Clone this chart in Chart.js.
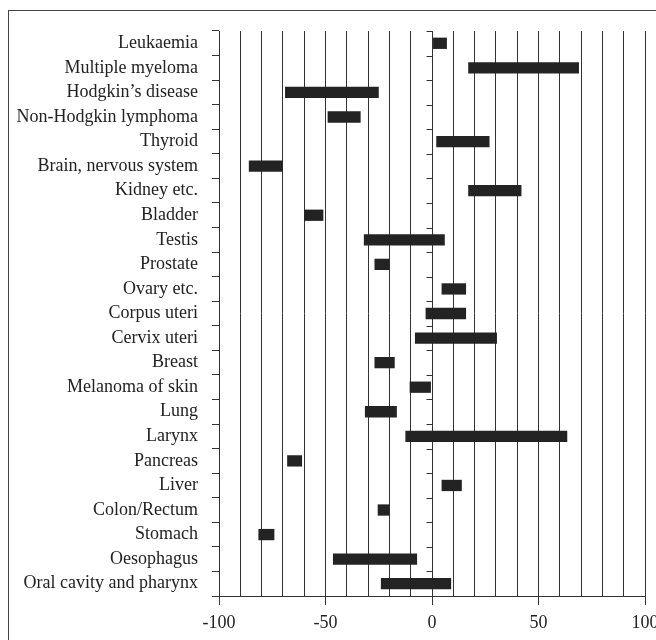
<!DOCTYPE html>
<html>
<head>
<meta charset="utf-8">
<script src="https://cdn.jsdelivr.net/npm/chart.js@4.4.1/dist/chart.umd.min.js"></script>
<style>
  html, body { margin: 0; padding: 0; background: #fff; overflow: hidden; }
  #wrap { position: relative; width: 656px; height: 640px; overflow: hidden; }
  #frame { position: absolute; left: 8px; top: 10px; width: 700px; height: 700px; border: 1px solid #444; box-sizing: border-box; pointer-events: none; }
  canvas { position: absolute; left: 0; top: 0; }
</style>
</head>
<body>
<div id="wrap">
  <div id="frame"></div>
  <canvas id="c" width="690" height="640"></canvas>
</div>
<script>
const categories = [
  "Leukaemia", "Multiple myeloma", "Hodgkin\u2019s disease", "Non-Hodgkin lymphoma",
  "Thyroid", "Brain, nervous system", "Kidney etc.", "Bladder", "Testis", "Prostate",
  "Ovary etc.", "Corpus uteri", "Cervix uteri", "Breast", "Melanoma of skin", "Lung",
  "Larynx", "Pancreas", "Liver", "Colon/Rectum", "Stomach", "Oesophagus",
  "Oral cavity and pharynx"
];
const lowValues = [
  0.5, 17, -69, -49, 2, -86, 17, -60, -32, -27,
  4.5, -3, -8, -27, -10.5, -31.5,
  -12.5, -68, 4.5, -25.5, -81.5, -46.5, -24
];
const highValues = [
  7, 69, -25, -33.5, 27, -70, 42, -51, 6, -20,
  16, 16, 30.5, -17.5, -0.5, -16.5,
  63.5, -61, 14, -20, -74, -7, 9
];
const xTickLabels = [-100, -50, 0, 50, 100];

const ranges = categories.map((c, i) => [lowValues[i], highValues[i]]);
const serif = "'Liberation Serif', 'DejaVu Serif', serif";

const zeroTicks = {
  id: 'zeroTicks',
  afterDatasetsDraw(chart) {
    const ctx = chart.ctx, xs = chart.scales.x, ys = chart.scales.y;
    const x = Math.round(xs.getPixelForValue(0)) + 0.5;
    ctx.save();
    ctx.strokeStyle = '#333';
    ctx.lineWidth = 1;
    ctx.beginPath();
    for (let i = 0; i <= categories.length; i++) {
      const y = Math.round(ys.getPixelForValue(i - 0.5)) + 0.5;
      ctx.moveTo(x - 6, y);
      ctx.lineTo(x, y);
    }
    ctx.stroke();
    ctx.restore();
  }
};

new Chart(document.getElementById('c'), {
  type: 'bar',
  data: {
    labels: categories,
    datasets: [{
      data: ranges,
      backgroundColor: '#222322',
      borderWidth: 0,
      categoryPercentage: 1.0,
      barPercentage: 0.46
    }]
  },
  options: {
    indexAxis: 'y',
    responsive: false,
    animation: false,
    layout: { padding: { left: 0, top: 31, right: 45, bottom: 0 } },
    plugins: { legend: { display: false }, tooltip: { enabled: false } },
    scales: {
      x: {
        min: -100, max: 100,
        afterFit(scale) { scale.height = 44; },
        ticks: {
          stepSize: 10,
          autoSkip: false,
          maxRotation: 0,
          padding: 7,
          color: '#222',
          font: { family: serif, size: 18 },
          callback(v) { return xTickLabels.includes(v) ? String(v) : ''; }
        },
        grid: {
          color: '#333',
          lineWidth: 1,
          drawTicks: true,
          tickLength: 9,
          tickColor(ctx) { return ctx.tick && xTickLabels.includes(ctx.tick.value) ? '#333' : 'rgba(0,0,0,0)'; }
        },
        border: { display: true, color: '#333', width: 1 }
      },
      y: {
        afterFit(scale) { scale.width = 219; },
        ticks: {
          padding: 14,
          color: '#222',
          font: { family: serif, size: 18 },
          autoSkip: false
        },
        grid: {
          offset: true,
          drawOnChartArea: false,
          drawTicks: true,
          tickLength: 7,
          color: '#333'
        },
        border: { display: true, color: '#333', width: 1 }
      }
    }
  },
  plugins: [zeroTicks]
});
</script>
</body>
</html>
